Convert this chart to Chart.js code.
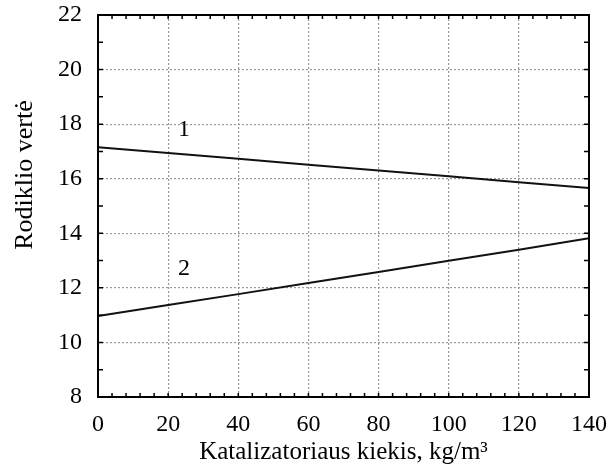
<!DOCTYPE html>
<html>
<head>
<meta charset="utf-8">
<script src="https://cdn.jsdelivr.net/npm/chart.js@4"></script>
<style>
  html, body { margin: 0; padding: 0; background: #fff; }
  #wrap { width: 612px; height: 475px; }
</style>
</head>
<body>
<div id="wrap"><canvas id="chart" width="612" height="475"></canvas></div>
<script>
// catalyst amount, kg/m3
const xValues = [0, 20, 40, 60, 80, 100, 120, 140];
// curve 1 and curve 2
const line1 = [17.15, 16.94, 16.73, 16.51, 16.30, 16.09, 15.87, 15.66];
const line2 = [10.97, 11.37, 11.77, 12.18, 12.58, 12.99, 13.40, 13.82];
const curveLabels = [
  { text: "1", x: 24.5, y: 17.8 },
  { text: "2", x: 24.5, y: 12.7 }
];
const yTitle = "Rodiklio vertė";

const font = "'Liberation Serif', 'Times New Roman', serif";

const toPoints = (ys) => xValues.map((x, i) => ({ x: x, y: ys[i] }));

// frame, inner minor ticks, curve numbers and the y title
const decor = {
  id: "decor",
  afterDraw(chart) {
    const ctx = chart.ctx;
    const a = chart.chartArea;
    const xs = chart.scales.x, ys = chart.scales.y;
    ctx.save();
    ctx.strokeStyle = "#000";
    ctx.lineWidth = 2;
    ctx.strokeRect(a.left, a.top, a.right - a.left, a.bottom - a.top);
    ctx.lineWidth = 1.5;
    ctx.beginPath();
    for (let v = 4; v < 140; v += 4) {
      const px = xs.getPixelForValue(v);
      ctx.moveTo(px, a.bottom); ctx.lineTo(px, a.bottom - 4);
      ctx.moveTo(px, a.top); ctx.lineTo(px, a.top + 4);
    }
    for (let v = 9; v < 22; v += 1) {
      const py = ys.getPixelForValue(v);
      ctx.moveTo(a.left, py); ctx.lineTo(a.left + 5, py);
      ctx.moveTo(a.right, py); ctx.lineTo(a.right - 5, py);
    }
    ctx.stroke();
    ctx.fillStyle = "#000";
    ctx.font = "24px " + font;
    ctx.textAlign = "center";
    ctx.textBaseline = "middle";
    curveLabels.forEach(l => {
      ctx.fillText(l.text, xs.getPixelForValue(l.x), ys.getPixelForValue(l.y));
    });
    ctx.translate(25, 175);
    ctx.rotate(-Math.PI / 2);
    ctx.font = "26px " + font;
    ctx.fillText(yTitle, 0, 0);
    ctx.restore();
  }
};

new Chart("chart", {
  type: "line",
  data: {
    datasets: [
      { data: toPoints(line1), borderColor: "#111", borderWidth: 2, pointRadius: 0, tension: 0 },
      { data: toPoints(line2), borderColor: "#111", borderWidth: 2, pointRadius: 0, tension: 0 }
    ]
  },
  options: {
    responsive: false,
    animation: false,
    layout: { padding: { top: 15, right: 23, left: 0, bottom: 0 } },
    plugins: { legend: { display: false }, tooltip: { enabled: false } },
    scales: {
      x: {
        type: "linear",
        min: 0, max: 140,
        afterFit: (s) => { s.height = 78; s.paddingLeft = 0; s.paddingRight = 0; },
        ticks: { stepSize: 20, color: "#000", font: { family: font, size: 24 }, padding: 13 },
        grid: { color: "#999", lineWidth: 1.2, drawTicks: false },
        border: { display: false, dash: [2, 2] },
        title: {
          display: true,
          text: "Katalizatoriaus kiekis, kg/m³",
          color: "#000",
          font: { family: font, size: 25 },
          padding: { top: 0, bottom: 8 }
        }
      },
      y: {
        min: 8, max: 22,
        afterFit: (s) => { s.width = 98; s.paddingTop = 0; s.paddingBottom = 0; },
        ticks: { stepSize: 2, color: "#000", font: { family: font, size: 24 }, padding: 16 },
        grid: { color: "#999", lineWidth: 1.2, drawTicks: false },
        border: { display: false, dash: [2, 2] }
      }
    }
  },
  plugins: [decor]
});
</script>
</body>
</html>
